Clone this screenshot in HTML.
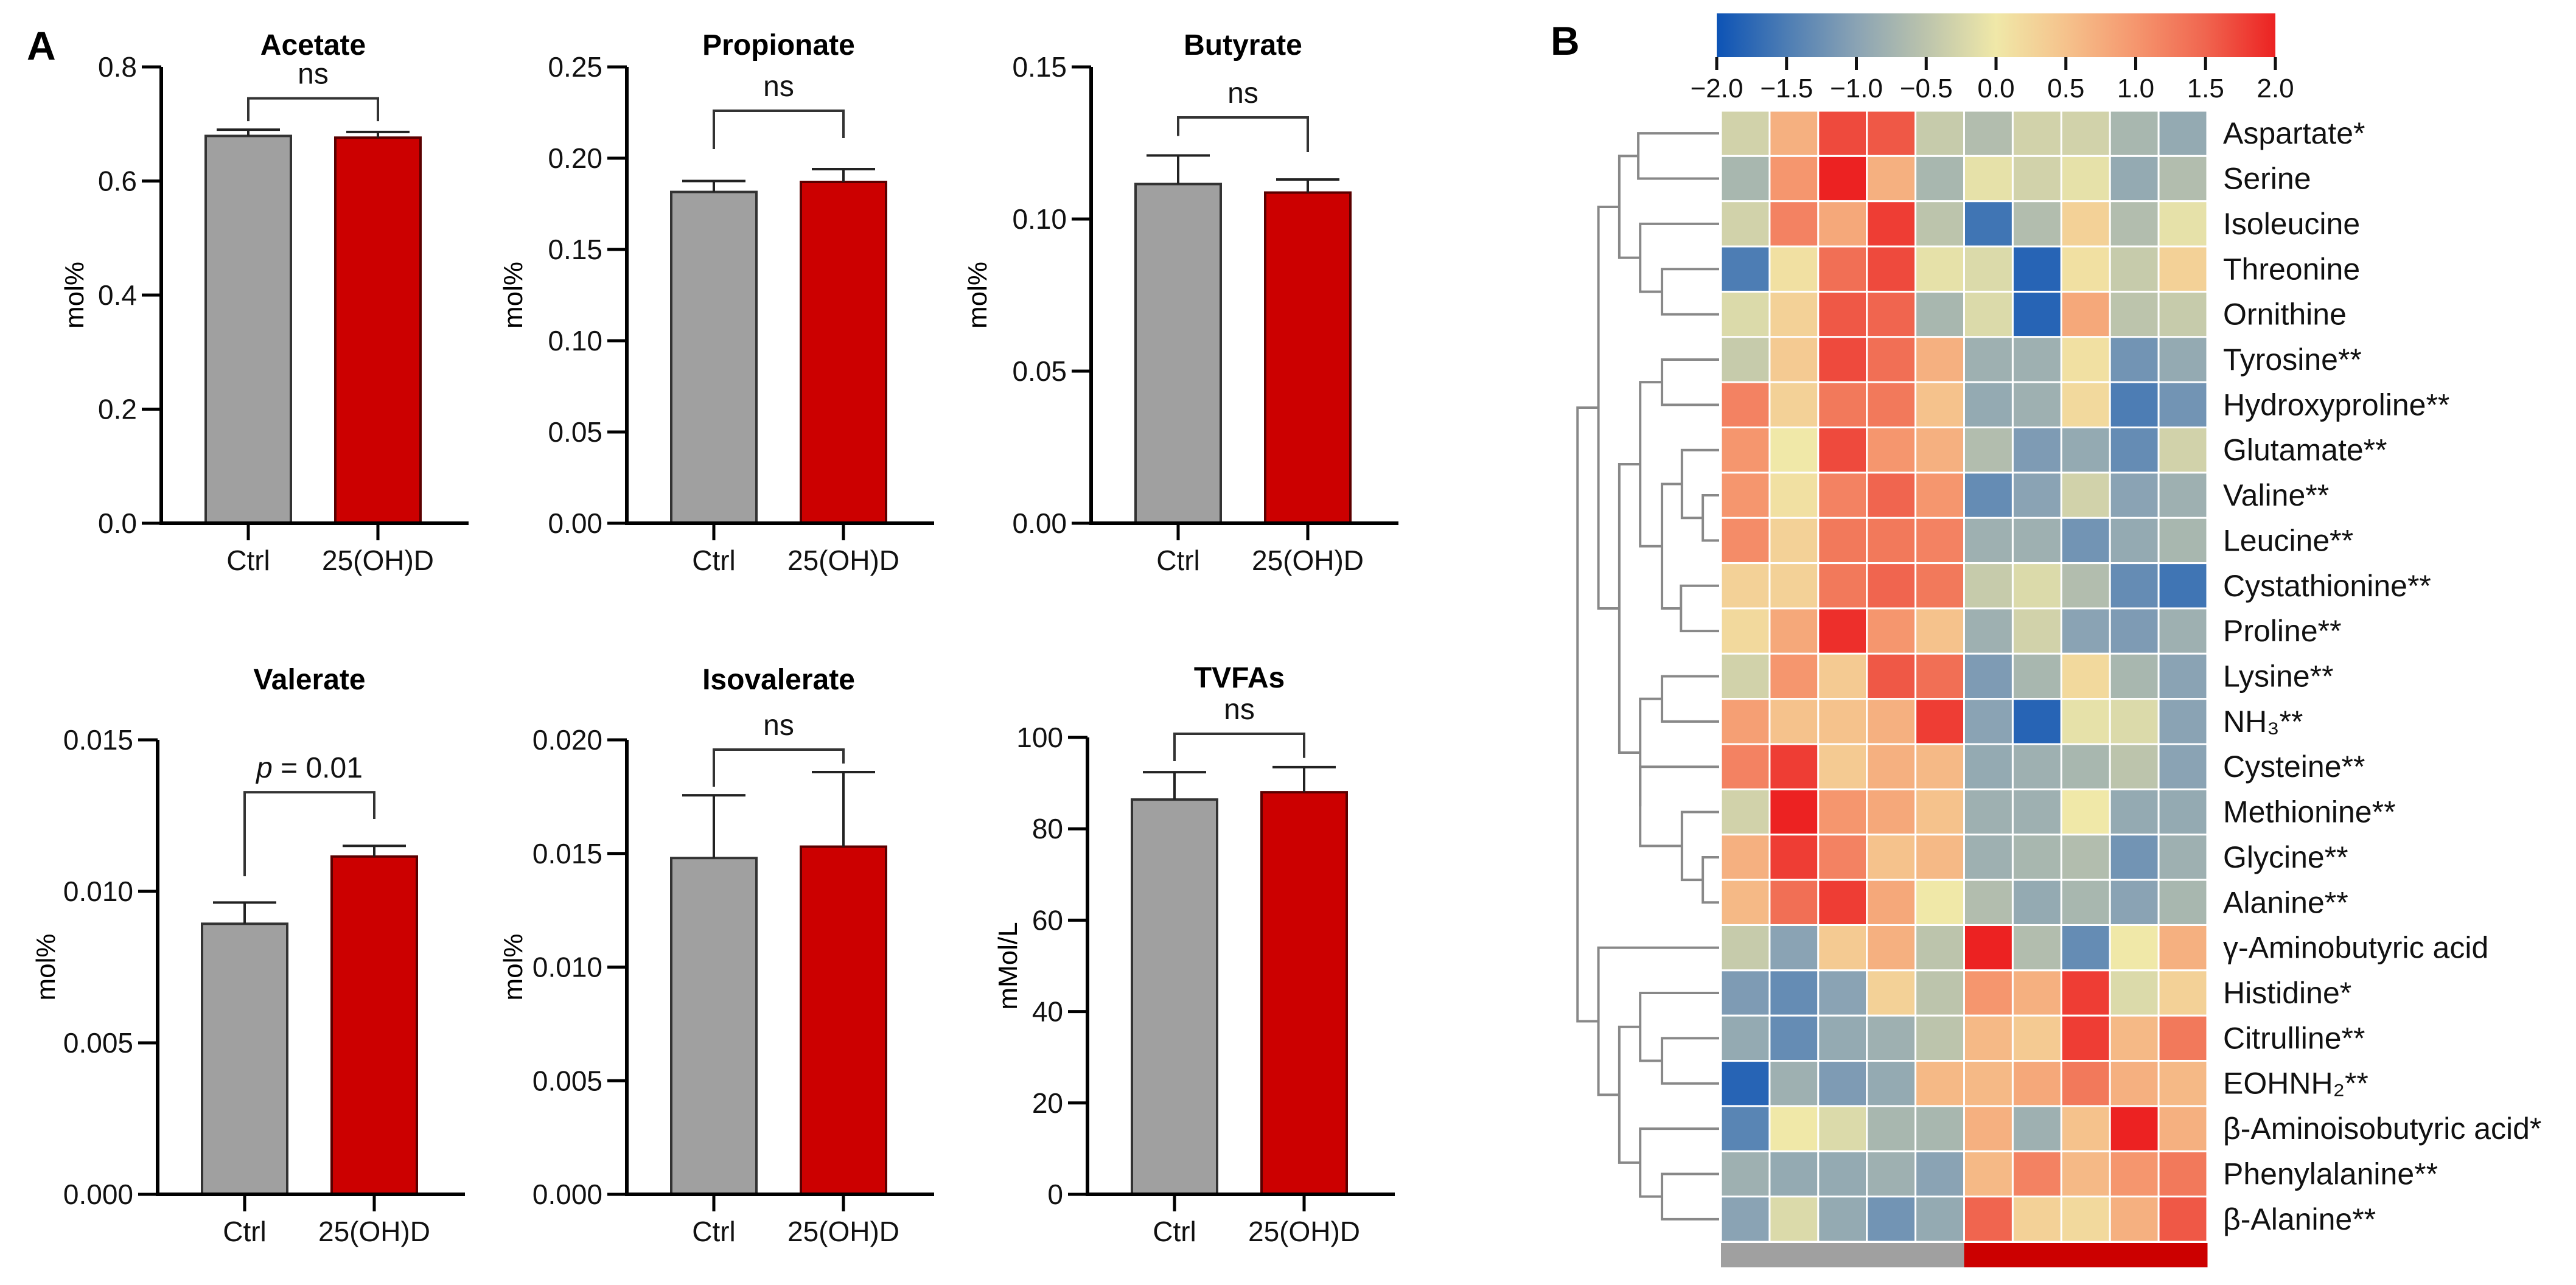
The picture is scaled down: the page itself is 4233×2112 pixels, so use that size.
<!DOCTYPE html>
<html><head><meta charset="utf-8"><style>
html,body{margin:0;padding:0;background:#fff;}
svg{display:block;font-family:"Liberation Sans",Arial,sans-serif;}
</style></head><body>
<svg id="fig" width="4233" height="2112" viewBox="0 0 4233 2112" xmlns="http://www.w3.org/2000/svg">
<rect width="4233" height="2112" fill="#fff"/>
<text x="44" y="98" font-size="66" font-weight="bold">A</text>
<text x="2548" y="90" font-size="66" font-weight="bold">B</text>
<g id="bars"></g>
<g id="heat"></g>
</svg>
<script>
// ---------- Bar chart data ----------
const titles = ["Acetate","Propionate","Butyrate","Valerate","Isovalerate","TVFAs"];
const ctrlMean = [0.679,0.1815,0.1115,0.00893,0.0148,86.4];
const ctrlErr  = [0.690,0.1875,0.1209,0.00963,0.01756,92.4];
const trtMean  = [0.676,0.187,0.1087,0.01115,0.0153,88.0];
const trtErr   = [0.686,0.194,0.113,0.0115,0.01858,93.5];
const yMax = [0.8,0.25,0.15,0.015,0.020,100];
const yStep = [0.2,0.05,0.05,0.005,0.005,20];
const yDec = [1,2,2,3,3,0];
const bracketLevel = [0.745,0.226,0.1334,0.01327,0.01957,100.8];
const legLeft  = [0.705,0.205,0.1273,0.0105,0.01794,94.8];
const legRight = [0.705,0.211,0.122,0.01239,0.01896,95.5];
const annot = ["ns","ns","ns","p","ns","ns"];
const yLabels = ["mol%","mol%","mol%","mol%","mol%","mMol/L"];
const categories = ["Ctrl","25(OH)D"];

const NS="http://www.w3.org/2000/svg";
function mk(tag, attrs, parent){const e=document.createElementNS(NS,tag);for(const k in attrs)e.setAttribute(k,attrs[k]);parent.appendChild(e);return e;}

const axisX=[265,1030,1793,259,1030,1787];
const rowTop=[110,110,110,1216,1216,1212];
const rowBase=[860,860,860,1963,1963,1963];
const titleY=[90,90,90,1133,1133,1130];
const ylabOff=[144,188,188,185,188,132];
const barsG=document.getElementById('bars');
for(let i=0;i<6;i++){
  const g=mk('g',{},barsG);
  
  
  const ax=axisX[i], yTop=rowTop[i], base=rowBase[i];
  const y=v=>base-(v/yMax[i])*(base-yTop);
  const cx=[ax+143, ax+356];
  const t=mk('text',{x:cx[0]/2+cx[1]/2,y:titleY[i],'font-size':48,'font-weight':'bold','text-anchor':'middle'},g);
  t.textContent=titles[i];
  
  
  const vals=[ctrlMean[i],trtMean[i]], errs=[ctrlErr[i],trtErr[i]];
  const fills=['#a0a0a0','#cc0000'], strokes=['#333','#5a0000'];
  for(let k=0;k<2;k++){
    const r=mk('rect',{x:cx[k]-70,y:y(vals[k]),width:140,height:base-y(vals[k]),fill:fills[k],stroke:strokes[k],'stroke-width':4},g);
    
    
    const e=mk('path',{d:`M${cx[k]},${y(vals[k])}V${y(errs[k])}M${cx[k]-52},${y(errs[k])}H${cx[k]+52}`,stroke:'#222','stroke-width':4,fill:'none'},g);
    
    
  }
  const a=mk('path',{d:`M${ax},${yTop}V${base}H${ax+505}`,stroke:'#000','stroke-width':6,fill:'none'},g);
  
  
  const n=Math.round(yMax[i]/yStep[i]);
  for(let j=0;j<=n;j++){
    const v=j*yStep[i], yy=y(v);
    mk('line',{x1:ax-32,x2:ax,y1:yy,y2:yy,stroke:'#000','stroke-width':5},g);
    const tl=mk('text',{x:ax-40,y:yy+16,'font-size':46,'text-anchor':'end',fill:'#111'},g);
    tl.textContent=v.toFixed(yDec[i]);
    
    
  }
  for(let k=0;k<2;k++){
    mk('line',{x1:cx[k],x2:cx[k],y1:base,y2:base+28,stroke:'#000','stroke-width':5},g);
    const cl=mk('text',{x:cx[k],y:base+77,'font-size':46,'text-anchor':'middle',fill:'#111'},g);
    cl.textContent=categories[k];
    
    
  }
  const yl=mk('text',{x:0,y:0,'font-size':44,'text-anchor':'middle',transform:`translate(${ax-ylabOff[i]+16},${(yTop+base)/2}) rotate(-90)`},g);
  yl.textContent=yLabels[i];
  
  
  const by=y(bracketLevel[i]);
  const br=mk('path',{d:`M${cx[0]},${y(legLeft[i])}V${by}H${cx[1]}V${y(legRight[i])}`,stroke:'#333','stroke-width':4,fill:'none'},g);
  
  
  const st=mk('text',{x:(cx[0]+cx[1])/2,y:by-24,'font-size':48,'text-anchor':'middle',fill:'#111'},g);
  
  
  if(annot[i]==='p'){
    const tp=mk('tspan',{'font-style':'italic'},st); tp.textContent='p';
    const tr=mk('tspan',{},st); tr.textContent=' = 0.01';
  } else st.textContent=annot[i];
}

// ---------- Heatmap data ----------
const rowNames=["Aspartate*","Serine","Isoleucine","Threonine","Ornithine","Tyrosine**","Hydroxyproline**","Glutamate**","Valine**","Leucine**","Cystathionine**","Proline**","Lysine**","NH₃**","Cysteine**","Methionine**","Glycine**","Alanine**","γ-Aminobutyric acid","Histidine*","Citrulline**","EOHNH₂**","β-Aminoisobutyric acid*","Phenylalanine**","β-Alanine**"];
const zAspartate=[-0.3,0.7,1.7,1.6,-0.4,-0.6,-0.3,-0.3,-0.7,-0.9];
const zSerine=[-0.7,1.0,2.0,0.7,-0.7,-0.1,-0.3,-0.1,-0.9,-0.6];
const zIsoleucine=[-0.3,1.2,0.8,1.8,-0.5,-1.6,-0.6,0.3,-0.6,-0.1];
const zThreonine=[-1.5,0.1,1.4,1.7,-0.1,-0.2,-1.8,0.1,-0.4,0.3];
const zOrnithine=[-0.2,0.3,1.6,1.5,-0.7,-0.2,-1.8,0.8,-0.5,-0.4];
const zTyrosine=[-0.4,0.4,1.7,1.4,0.7,-0.8,-0.8,0.1,-1.2,-0.9];
const zHydroxyproline=[1.2,0.3,1.3,1.3,0.5,-0.9,-0.8,0.2,-1.5,-1.2];
const zGlutamate=[1.0,0.0,1.7,1.0,0.7,-0.6,-1.1,-0.9,-1.3,-0.3];
const zValine=[1.0,0.1,1.2,1.5,1.0,-1.3,-1.0,-0.3,-1.0,-0.8];
const zLeucine=[1.1,0.3,1.3,1.3,1.2,-0.8,-0.8,-1.2,-0.9,-0.7];
const zCystathionine=[0.3,0.3,1.3,1.5,1.3,-0.4,-0.2,-0.6,-1.3,-1.6];
const zProline=[0.2,0.8,1.9,1.0,0.5,-0.8,-0.3,-1.0,-1.1,-0.8];
const zLysine=[-0.3,1.0,0.4,1.6,1.4,-1.1,-0.7,0.2,-0.7,-1.0];
const zNH3=[0.9,0.5,0.5,0.7,1.8,-1.0,-1.8,-0.1,-0.2,-1.0];
const zCysteine=[1.2,1.8,0.4,0.7,0.6,-0.9,-0.8,-0.7,-0.5,-1.0];
const zMethionine=[-0.3,2.0,1.0,0.8,0.5,-0.8,-0.8,0.0,-0.9,-0.9];
const zGlycine=[0.7,1.8,1.2,0.5,0.6,-0.8,-0.7,-0.6,-1.2,-0.8];
const zAlanine=[0.6,1.4,1.8,0.8,0.0,-0.6,-0.9,-0.7,-1.0,-0.7];
const zGABA=[-0.4,-1.0,0.4,0.7,-0.5,2.0,-0.6,-1.3,0.0,0.7];
const zHistidine=[-1.1,-1.3,-1.0,0.3,-0.5,1.0,0.7,1.8,-0.2,0.3];
const zCitrulline=[-0.9,-1.3,-0.9,-0.8,-0.5,0.6,0.4,1.8,0.6,1.3];
const zEOHNH2=[-1.8,-0.8,-1.1,-0.9,0.6,0.6,0.8,1.3,0.7,0.6];
const zBAIB=[-1.4,0.0,-0.2,-0.7,-0.7,0.7,-0.8,0.5,2.0,0.7];
const zPhe=[-0.8,-0.9,-0.9,-0.8,-1.0,0.6,1.2,0.6,1.0,1.3];
const zBAla=[-1.0,-0.2,-0.9,-1.2,-0.9,1.5,0.3,0.2,0.7,1.6];
const zRows=[zAspartate,zSerine,zIsoleucine,zThreonine,zOrnithine,zTyrosine,zHydroxyproline,zGlutamate,zValine,zLeucine,zCystathionine,zProline,zLysine,zNH3,zCysteine,zMethionine,zGlycine,zAlanine,zGABA,zHistidine,zCitrulline,zEOHNH2,zBAIB,zPhe,zBAla];
const groups=["Ctrl","Ctrl","Ctrl","Ctrl","Ctrl","25(OH)D","25(OH)D","25(OH)D","25(OH)D","25(OH)D"];
const cbTicks=[-2,-1.5,-1,-0.5,0,0.5,1,1.5,2];

const stops=[[-2,[13,83,181]],[-1.5,[77,125,180]],[-1,[138,163,180]],[-0.5,[188,196,172]],[0,[240,232,168]],[0.5,[245,194,140]],[1,[245,150,110]],[1.5,[240,101,79]],[2,[236,34,34]]];
function col(v){v=Math.max(-2,Math.min(2,v));for(let i=0;i<stops.length-1;i++){const a=stops[i],b=stops[i+1];if(v<=b[0]){const t=(v-a[0])/(b[0]-a[0]);const c=a[1].map((x,j)=>Math.round(x+(b[1][j]-x)*t));return `rgb(${c.join(',')})`;}}return 'rgb(236,34,34)';}

const H=document.getElementById('heat');
const hx0=2828,hx1=3627,hy0=182,hy1=2041;
const cw=(hx1-hx0)/10, ch=(hy1-hy0)/rowNames.length;
for(let r=0;r<rowNames.length;r++){
  for(let c=0;c<10;c++){
    const cell=mk('rect',{x:hx0+c*cw,y:hy0+r*ch,width:cw,height:ch,fill:col(zRows[r][c]),stroke:'#fff','stroke-width':3},H);
    
    
  }
  const lab=mk('text',{x:3653,y:hy0+r*ch+ch/2+17,'font-size':50,fill:'#111'},H);
  lab.textContent=rowNames[r];
  
  
}
for(let c=0;c<10;c++){
  const gb=mk('rect',{x:hx0+c*cw,y:2043,width:cw+0.5,height:40,fill:groups[c]==='Ctrl'?'#a0a0a0':'#cc0000'},H);
  
  
}
const defs=mk('defs',{},H);
const lg=mk('linearGradient',{id:'cbg',x1:0,x2:1,y1:0,y2:0},defs);
stops.forEach(s=>mk('stop',{offset:(s[0]+2)/4,'stop-color':col(s[0])},lg));
const cbx0=2821,cbx1=3739;
const cb=mk('rect',{x:cbx0,y:22,width:cbx1-cbx0,height:72,fill:'url(#cbg)'},H);


cbTicks.forEach(v=>{
  const x=cbx0+(v+2)/4*(cbx1-cbx0);
  mk('line',{x1:x,x2:x,y1:94,y2:115,stroke:'#111','stroke-width':5},H);
  const tl=mk('text',{x:x,y:160,'font-size':44,'text-anchor':'middle',fill:'#111'},H);
  tl.textContent=(v<0?'\u2212':'')+Math.abs(v).toFixed(1);
  
  
});
// dendrogram
const zx=z=>1800+z*1.5596;
const leafX=2825;
function L(i){return {y:hy0+i*ch+ch/2,x:leafX};}
function join(a,b,h){const x=zx(h);
  const d=`M${a.x},${a.y}H${x}V${b.y}H${b.x}`;
  const p=mk('path',{d:d,stroke:'#888','stroke-width':4,fill:'none'},H);
  
  
  return {x:x,y:(a.y+b.y)/2};}
const grpA=join(join(L(0),L(1),572),join(L(2),join(L(3),L(4),597),574),552);
const grpB1=join(join(L(5),L(6),597),join(join(L(7),join(L(8),L(9),640),618),join(L(10),L(11),617),597),574);
const grpB2=join(join(L(12),L(13),597),join(L(14),join(L(15),join(L(16),L(17),640),618),574),574);
const grpB=join(grpB1,grpB2,552);
const topGroup=join(grpA,grpB,530);
const grpC=join(L(18),join(join(L(19),join(L(20),L(21),597),574),join(L(22),join(L(23),L(24),597),574),552),530);
join(topGroup,grpC,508);
</script>
</body></html>
